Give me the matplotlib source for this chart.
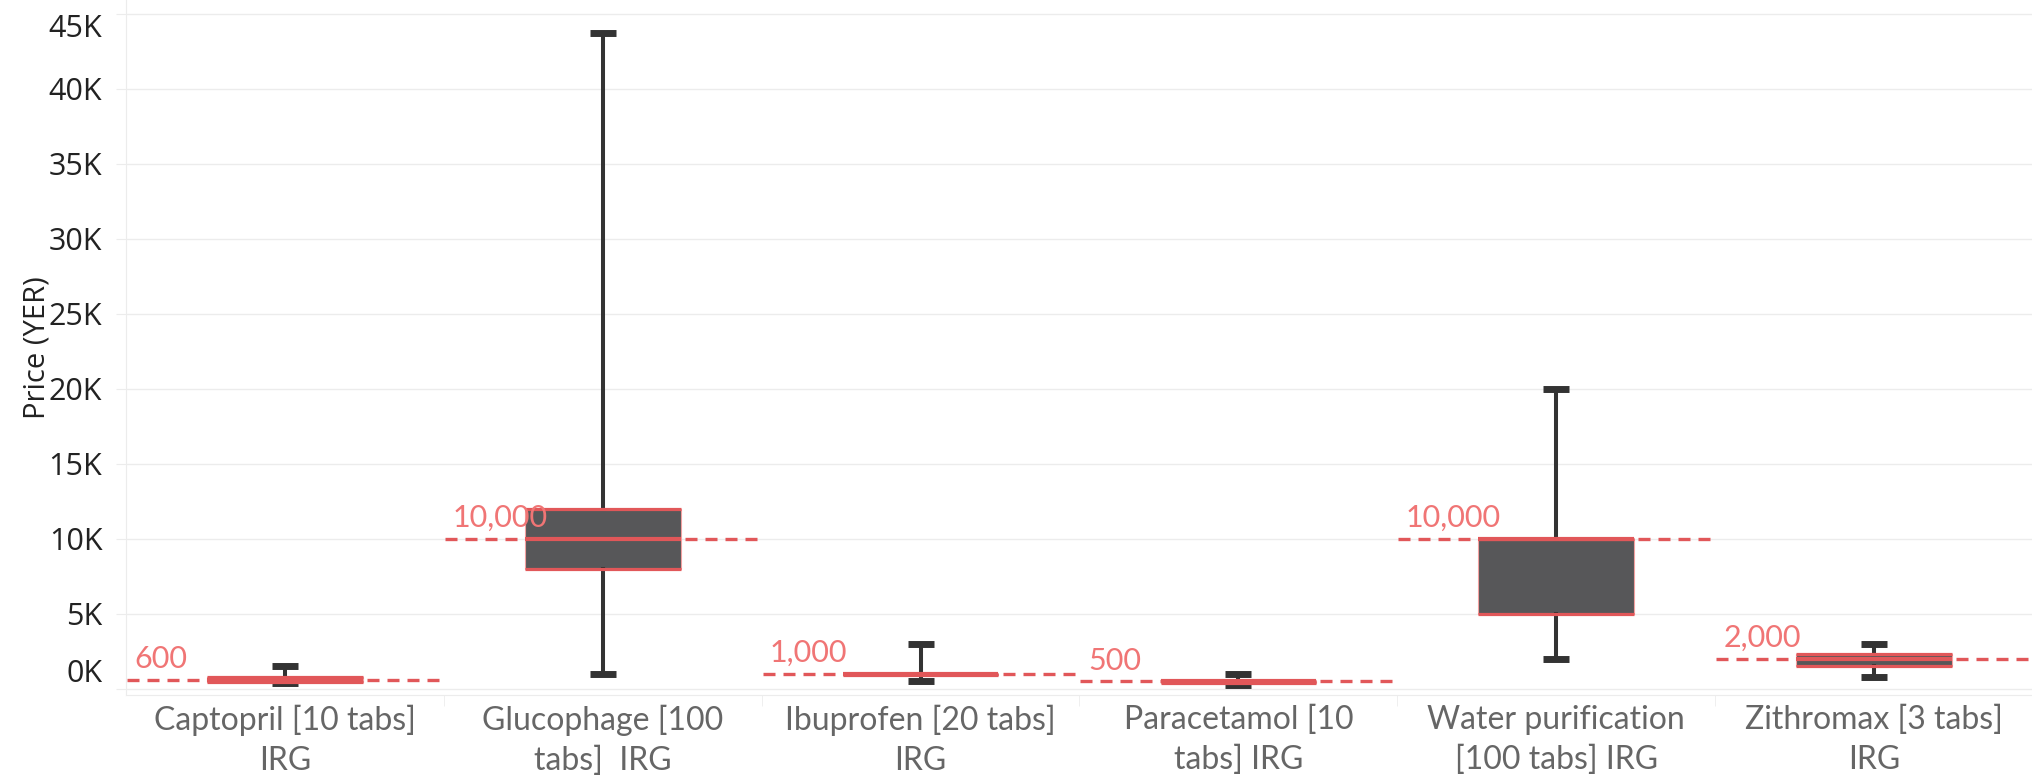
import matplotlib
matplotlib.use("Agg")
import matplotlib.pyplot as plt
from matplotlib.ticker import FuncFormatter, MultipleLocator, FixedLocator

# --- data (YER) ---
products = [
    "Captopril [10 tabs]\nIRG",
    "Glucophage [100\ntabs]  IRG",
    "Ibuprofen [20 tabs]\nIRG",
    "Paracetamol [10\ntabs] IRG",
    "Water purification\n[100 tabs] IRG",
    "Zithromax [3 tabs]\nIRG",
]
whisker_lo = [400, 1000, 500, 250, 2000, 800]
q1 = [450, 8000, 900, 400, 5000, 1500]
median = [600, 10000, 1000, 500, 10000, 2000]
q3 = [800, 12000, 1000, 500, 10000, 2300]
whisker_hi = [1500, 43700, 3000, 1000, 20000, 3000]

RED = "#e15759"
LABEL_RED = "#f07575"
BOX = "#575759"
WHISK = "#333333"
GRID = "#ececec"

W, H, DPI = 2033, 780, 100
fig = plt.figure(figsize=(W / DPI, H / DPI), dpi=DPI)
left, bottom = 126 / W, 1 - 695 / H
ax = fig.add_axes([left, bottom, 1 - left, 1 - bottom])

stats = []
for i in range(len(products)):
    stats.append(dict(med=median[i], q1=q1[i], q3=q3[i],
                      whislo=whisker_lo[i], whishi=whisker_hi[i], fliers=[]))

pos = list(range(len(products)))
box_w = 0.49
ax.bxp(stats, positions=pos, widths=box_w, patch_artist=True,
       showfliers=False, manage_ticks=False, capwidths=0.082,
       boxprops=dict(facecolor=BOX, edgecolor="#f3a0a0", linewidth=0.8),
       whiskerprops=dict(color=WHISK, linewidth=2.9),
       capprops=dict(color=WHISK, linewidth=5, solid_capstyle="butt"),
       medianprops=dict(color=RED, linewidth=3, solid_capstyle="butt"),
       zorder=3)

# red top / bottom edges of the boxes
for i in pos:
    ax.hlines([q1[i], q3[i]], i - box_w / 2, i + box_w / 2, colors=RED,
              linewidth=2.3, zorder=3.5)

# median reference lines per pane, with labels
for i in pos:
    ax.hlines(median[i], i - 0.497, i + 0.497, colors=RED, linewidth=2.4,
              linestyles=(0, (3.6, 2.4)), zorder=2)
    ax.annotate(f"{median[i]:,}", xy=(i - 0.5, median[i]), xytext=(6, 5),
                textcoords="offset points", ha="left", va="bottom",
                fontsize=22, family="Lato", color=LABEL_RED, zorder=4)

ax.set_xlim(-0.5, len(products) - 0.5)
ax.set_ylim(-400, 45900)

ax.yaxis.set_major_locator(MultipleLocator(5000))
ax.yaxis.set_major_formatter(FuncFormatter(lambda v, p: f"{v / 1000:.0f}K"))
ax.grid(axis="y", color=GRID, linewidth=1, zorder=0)
ax.set_axisbelow(True)
ax.tick_params(axis="y", length=7, color=GRID, pad=10, labelsize=22,
               labelcolor="#222222")

ax.set_xticks(pos)
ax.set_xticklabels(products, family="Lato", fontsize=23, color="#666666",
                   linespacing=1.4)
ax.tick_params(axis="x", length=0, pad=7)
ax.xaxis.set_minor_locator(FixedLocator([p + 0.5 for p in pos[:-1]]))
ax.tick_params(axis="x", which="minor", length=8, color=GRID)

ax.set_ylabel("Price (YER)", family="Open Sans", fontsize=21, color="#222222",
              labelpad=-2)

for s in ["top", "right"]:
    ax.spines[s].set_visible(False)
ax.spines["left"].set_color(GRID)
ax.spines["bottom"].set_color(GRID)

# first draw builds the tick objects; then nudge the end labels inside
fig.canvas.draw()
for t in ax.yaxis.get_major_ticks():
    t.label1.set_family("Open Sans")
    if abs(t.get_loc()) < 1:
        t.label1.set_va("bottom")
    elif abs(t.get_loc() - 45000) < 1:
        t.label1.set_va("top")

fig.savefig("out.png", dpi=DPI)
